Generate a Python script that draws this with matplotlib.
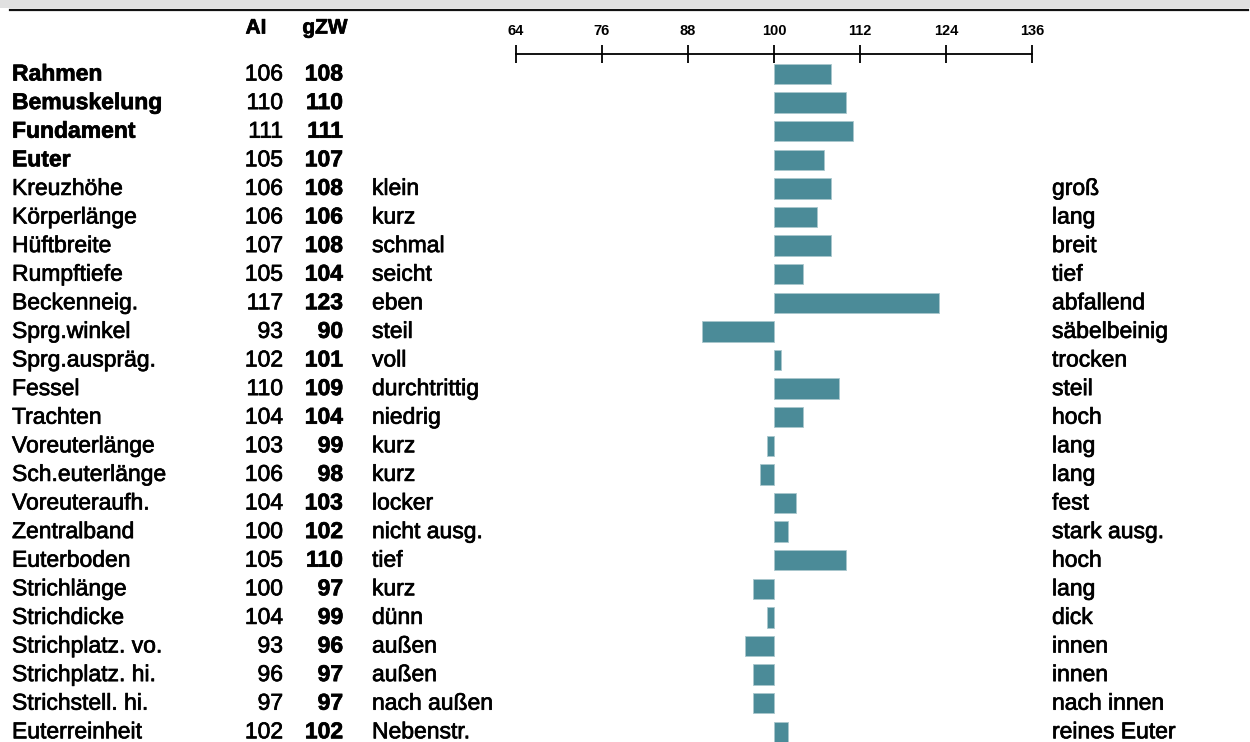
import matplotlib
matplotlib.use('Agg')
import matplotlib.pyplot as plt
import matplotlib.patheffects as pe
from matplotlib.transforms import blended_transform_factory
from matplotlib.patches import Rectangle
from matplotlib.lines import Line2D

plt.rcParams['font.family'] = ['Liberation Sans', 'DejaVu Sans']

# data
names = ['Rahmen', 'Bemuskelung', 'Fundament', 'Euter', 'Kreuzhöhe', 'Körperlänge',
         'Hüftbreite', 'Rumpftiefe', 'Beckenneig.', 'Sprg.winkel', 'Sprg.auspräg.',
         'Fessel', 'Trachten', 'Voreuterlänge', 'Sch.euterlänge', 'Voreuteraufh.',
         'Zentralband', 'Euterboden', 'Strichlänge', 'Strichdicke', 'Strichplatz. vo.',
         'Strichplatz. hi.', 'Strichstell. hi.', 'Euterreinheit']
ai = [106, 110, 111, 105, 106, 106, 107, 105, 117, 93, 102, 110, 104, 103, 106, 104,
      100, 105, 100, 104, 93, 96, 97, 102]
gzw = [108, 110, 111, 107, 108, 106, 108, 104, 123, 90, 101, 109, 104, 99, 98, 103,
       102, 110, 97, 99, 96, 97, 97, 102]
left_lbl = ['', '', '', '', 'klein', 'kurz', 'schmal', 'seicht', 'eben', 'steil', 'voll',
            'durchtrittig', 'niedrig', 'kurz', 'kurz', 'locker', 'nicht ausg.', 'tief',
            'kurz', 'dünn', 'außen', 'außen', 'nach außen', 'Nebenstr.']
right_lbl = ['', '', '', '', 'groß', 'lang', 'breit', 'tief', 'abfallend', 'säbelbeinig',
             'trocken', 'steil', 'hoch', 'lang', 'lang', 'fest', 'stark ausg.', 'hoch',
             'lang', 'dick', 'innen', 'innen', 'nach innen', 'reines Euter']
n_bold = 4
ticks = [64, 76, 88, 100, 112, 124, 136]
base = 100

W, H = 1250, 742
fig = plt.figure(figsize=(W / 100, H / 100), dpi=100)

# scale: 64 -> x=516px, 136 -> x=1032px ; rows start at y=74px, step 28.6px
row0, step = 74, 28.6
ax = fig.add_axes([516 / W, 0, 516 / W, 1])
ax.set_xlim(ticks[0], ticks[-1])
ax.set_ylim((H - row0) / step, -row0 / step)

ypos = list(range(len(names)))
ax.barh(ypos, [v - base for v in gzw], left=base, height=0.72,
        color='#4b8b98', edgecolor='#a9c7cd', linewidth=0.6)

# scale line on top
for s in ['left', 'right', 'bottom']:
    ax.spines[s].set_visible(False)
ax.spines['top'].set_position(('data', (54 - row0) / step))
ax.spines['top'].set_bounds(ticks[0], ticks[-1])
ax.spines['top'].set_linewidth(1.3)
ax.xaxis.set_ticks_position('top')
ax.set_xticks(ticks)
ax.set_xticklabels([str(t) for t in ticks], fontsize=10.5, fontweight='bold')
ax.tick_params(axis='x', direction='inout', length=13, width=1.3, pad=5)
ax.set_yticks([])
ax.patch.set_visible(False)

heavy = [pe.withStroke(linewidth=0.5, foreground='black')]
tr = blended_transform_factory(fig.transFigure, ax.transData)
fs = 16.5
for i, name in enumerate(names):
    bold = 'bold' if i < n_bold else 'normal'
    kw = dict(transform=tr, va='center', fontsize=fs, path_effects=heavy)
    ax.text(12 / W, i, name, ha='left', fontweight=bold, **kw)
    ax.text(283 / W, i, str(ai[i]), ha='right', **kw)
    ax.text(343 / W, i, str(gzw[i]), ha='right', fontweight='bold', **kw)
    ax.text(372 / W, i, left_lbl[i], ha='left', **kw)
    ax.text(1052 / W, i, right_lbl[i], ha='left', **kw)

# column headers
hy = (28 - row0) / step
ax.text(256 / W, hy, 'AI', transform=tr, ha='center', va='center', fontsize=15,
        fontweight='bold', path_effects=heavy)
ax.text(325 / W, hy, 'gZW', transform=tr, ha='center', va='center', fontsize=15,
        fontweight='bold', path_effects=heavy)

# grey band and rule at the very top
fig.patches.append(Rectangle((0, 1 - 8 / H), 1, 8 / H, transform=fig.transFigure,
                             facecolor='#e0e0e0', edgecolor='none'))
fig.lines.append(Line2D([10 / W, 1248 / W], [1 - 9.5 / H, 1 - 9.5 / H],
                        transform=fig.transFigure, color='#111111', linewidth=1.6))

fig.savefig('out.png', dpi=100)
